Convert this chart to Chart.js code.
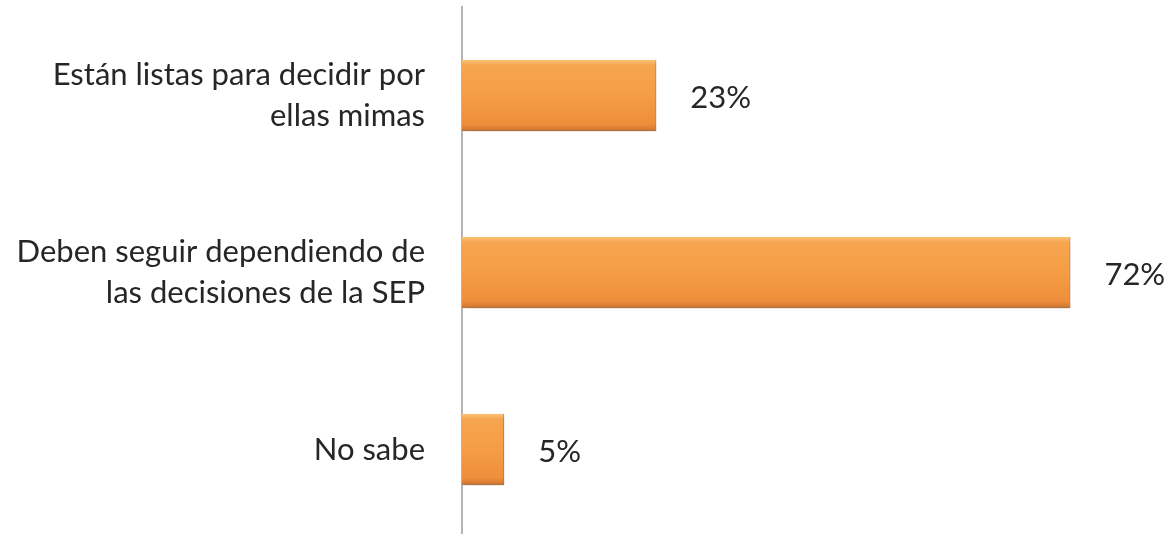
<!DOCTYPE html>
<html>

<head>
  <meta charset="utf-8">
  <title>Autonomía de las escuelas</title>
  <script src="https://cdn.jsdelivr.net/npm/chart.js@4.4.1/dist/chart.umd.min.js"></script>
  <style>
    html, body { margin: 0; padding: 0; background: #fff; overflow: hidden; }
    /* a little taller than the window: the axis runs off the bottom edge */
    .chart-container { width: 1171px; height: 538px; }
  </style>
</head>

<body>
  <div class="chart-container">
    <canvas id="barChart"></canvas>
  </div>

  <script>
    // Data
    const categories = [
      ['Están listas para decidir por', 'ellas mimas'],
      ['Deben seguir dependiendo de', 'las decisiones de la SEP'],
      ['No sabe']
    ];
    const values = [23, 72, 5];
    const valueLabels = ['23%', '72%', '5%'];

    const AXIS_X = 462;      // where the category axis sits
    const BAR_HALF = 36;     // half thickness, used for the gradient

    // gradient per bar, from light top to darker bottom
    function barFill(context) {
      const chart = context.chart;
      if (!chart.chartArea || !chart.scales.y) return '#F59E45';
      const yc = chart.scales.y.getPixelForValue(context.dataIndex);
      const g = chart.ctx.createLinearGradient(0, yc - BAR_HALF, 0, yc + BAR_HALF);
      g.addColorStop(0, '#FBC47A');
      g.addColorStop(0.08, '#F7A550');
      g.addColorStop(0.5, '#F59D45');
      g.addColorStop(0.9, '#EE8E3C');
      g.addColorStop(1, '#C9712C');
      return g;
    }

    // soft shadow under the bars
    const shadowPlugin = {
      id: 'barShadow',
      beforeDatasetsDraw(chart) {
        const ctx = chart.ctx;
        ctx.save();
        ctx.shadowColor = 'rgba(0,0,0,0.28)';
        ctx.shadowBlur = 5;
        ctx.shadowOffsetX = 1;
        ctx.shadowOffsetY = 3;
      },
      afterDatasetsDraw(chart) {
        chart.ctx.restore();
      }
    };

    // percentage text to the right of each bar
    const valueLabelPlugin = {
      id: 'valueLabels',
      afterDraw(chart) {
        const ctx = chart.ctx;
        const meta = chart.getDatasetMeta(0);
        ctx.save();
        ctx.font = '31px Lato';
        ctx.fillStyle = '#262626';
        ctx.textAlign = 'left';
        ctx.textBaseline = 'middle';
        meta.data.forEach((bar, i) => {
          ctx.fillText(valueLabels[i], bar.x + 34, bar.y + 2);
        });
        ctx.restore();
      }
    };

    const ctx = document.getElementById('barChart').getContext('2d');
    const barChart = new Chart(ctx, {
      type: 'bar',
      data: {
        labels: categories,
        datasets: [{
          data: values,
          backgroundColor: barFill,
          borderColor: '#B86A2C',
          borderWidth: { top: 0, left: 0, right: 1, bottom: 1 },
          borderSkipped: false,
          categoryPercentage: 1,
          barPercentage: 0.405
        }]
      },
      options: {
        indexAxis: 'y',
        responsive: true,
        maintainAspectRatio: false,
        animation: false,
        layout: { padding: { top: 7, right: 33, bottom: 0, left: 0 } },
        plugins: {
          legend: { display: false },
          tooltip: { enabled: false }
        },
        scales: {
          x: {
            display: false,
            min: 0,
            max: 80
          },
          y: {
            grid: { display: false },
            border: { display: true, color: '#B4B4B4', width: 2 },
            ticks: {
              padding: 29,
              color: '#262626',
              font: { family: 'Lato', size: 31, lineHeight: 1.3 }
            },
            afterFit(scale) {
              scale.width = AXIS_X;
              // no extra room above/below for the tick labels
              scale.paddingTop = 0;
              scale.paddingBottom = 0;
            }
          }
        }
      },
      plugins: [shadowPlugin, valueLabelPlugin]
    });
  </script>
</body>

</html>
